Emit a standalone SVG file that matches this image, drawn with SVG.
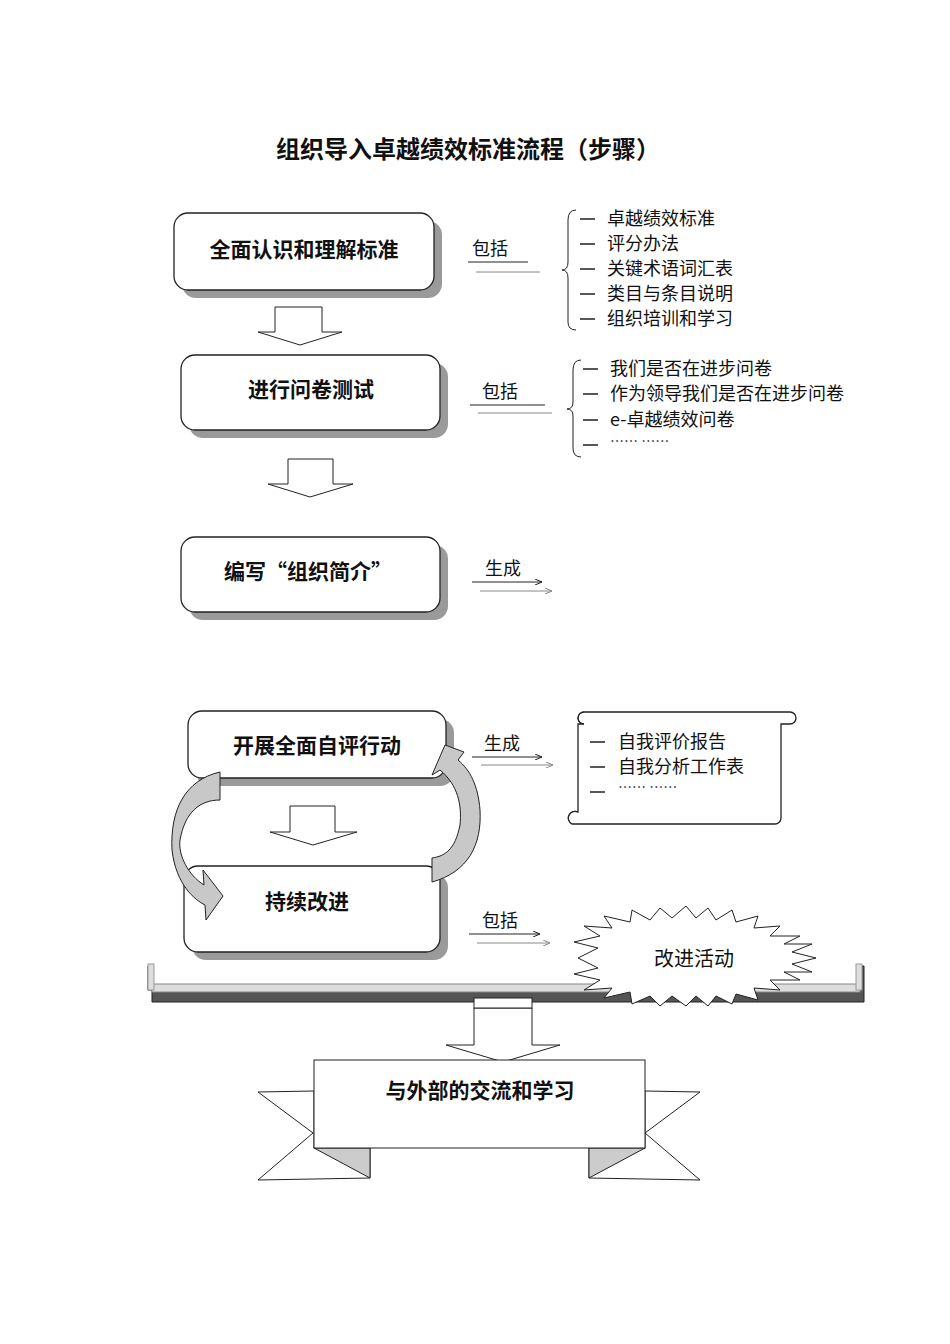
<svg xmlns="http://www.w3.org/2000/svg" width="950" height="1344" viewBox="0 0 950 1344">
<style>
text{font-family:"Noto Sans CJK SC","Liberation Sans",sans-serif;fill:#111}
.b{font-weight:bold;font-size:21px}
.t{font-size:18px}
.box{fill:#fff;stroke:#222;stroke-width:1.3}
.sh{fill:#9a9a9a}
.ln{stroke:#222;stroke-width:1;fill:none}
.lg{stroke:#888;stroke-width:1;fill:none}
.ar{fill:#fff;stroke:#222;stroke-width:1}
.d{stroke:#222;stroke-width:1.3}
</style>
<defs>
<marker id="m" markerWidth="8" markerHeight="6" refX="7" refY="3" orient="auto"><path d="M0,0 L7,3 L0,6" fill="none" stroke="#222"/></marker>
<marker id="mg" markerWidth="8" markerHeight="6" refX="7" refY="3" orient="auto"><path d="M0,0 L7,3 L0,6" fill="none" stroke="#888"/></marker>
</defs>
<rect width="950" height="1344" fill="#fff"/>
<text x="468" y="158" text-anchor="middle" style="font-weight:bold;font-size:24px">组织导入卓越绩效标准流程（步骤）</text>

<g id="n1"><rect class="sh" x="182" y="221" width="260" height="77" rx="14"/><rect class="box" x="174" y="213" width="260" height="77" rx="14"/><text class="b" x="304" y="257" text-anchor="middle">全面认识和理解标准</text></g>
<g id="n2"><rect class="sh" x="189" y="363" width="259" height="75" rx="14"/><rect class="box" x="181" y="355" width="259" height="75" rx="14"/><text class="b" x="311" y="397" text-anchor="middle">进行问卷测试</text></g>
<g id="n3"><rect class="sh" x="189" y="545" width="259" height="75" rx="14"/><rect class="box" x="181" y="537" width="259" height="75" rx="14"/><text class="b" x="308" y="579" text-anchor="middle">编写“组织简介”</text></g>
<g id="n4"><rect class="sh" x="196" y="719" width="258" height="67" rx="14"/><rect class="box" x="188" y="711" width="258" height="67" rx="14"/><text class="b" x="317" y="753" text-anchor="middle">开展全面自评行动</text></g>
<g id="n5"><rect class="sh" x="192" y="874" width="256" height="86" rx="14"/><rect class="box" x="184" y="866" width="256" height="86" rx="14"/><text class="b" x="307" y="909" text-anchor="middle">持续改进</text></g>

<g id="loop">
<path d="M220,772 C185,780 170,810 172,850 C176,885 195,900 205,905 L206,920 L223,896 L203,870 L204,885 C188,875 178,855 180,840 C185,812 200,800 220,800 Z" fill="#c8c8c8" stroke="#222"/>
<path d="M432,882 C468,872 482,845 480,810 C478,785 470,770 458,760 L464,752 L445,745 L432,775 L440,770 C458,785 462,805 460,825 C455,850 445,856 432,858 Z" fill="#c8c8c8" stroke="#222"/>
</g>

<g id="arrows-block">
<path class="ar" d="M275,307 H322 V332 H342 L300,345 L258,332 H275 Z"/>
<path class="ar" d="M288,459 H333 V484 H353 L310,497 L268,484 H288 Z"/>
<path class="ar" d="M290,806 H335 V832 H357 L313,845 L270,832 H290 Z"/>
</g>

<g id="connectors">
<text class="t" x="472" y="255">包括</text>
<line class="ln" x1="468" y1="262" x2="528" y2="262"/><line class="lg" x1="476" y1="272" x2="540" y2="272"/>
<text class="t" x="482" y="398">包括</text>
<line class="ln" x1="470" y1="405" x2="545" y2="405"/><line class="lg" x1="478" y1="413" x2="552" y2="413"/>
<text class="t" x="485" y="575">生成</text>
<line class="ln" x1="472" y1="582" x2="542" y2="582" marker-end="url(#m)"/><line class="lg" x1="480" y1="591" x2="552" y2="591" marker-end="url(#mg)"/>
<text class="t" x="484" y="750">生成</text>
<line class="ln" x1="472" y1="757" x2="542" y2="757" marker-end="url(#m)"/><line class="lg" x1="481" y1="765" x2="553" y2="765" marker-end="url(#mg)"/>
<text class="t" x="482" y="927">包括</text>
<line class="ln" x1="469" y1="934" x2="540" y2="934" marker-end="url(#m)"/><line class="lg" x1="477" y1="943" x2="550" y2="943" marker-end="url(#mg)"/>
</g>

<g id="list1">
<path class="ln" d="M576,210 Q568,210 568,220 V262 Q568,270 562,270 Q568,270 568,278 V322 Q568,330 576,330"/>
<path class="d" d="M580,219 H595 M580,244 H595 M580,269 H595 M580,294 H595 M580,319 H595"/>
<g class="t"><text x="607" y="225">卓越绩效标准</text><text x="607" y="250">评分办法</text><text x="607" y="275">关键术语词汇表</text><text x="607" y="300">类目与条目说明</text><text x="607" y="325">组织培训和学习</text></g>
</g>
<g id="list2">
<path class="ln" d="M581,360 Q573,360 573,370 V402 Q573,409 567,409 Q573,409 573,416 V448 Q573,457 581,457"/>
<path class="d" d="M583,369 H598 M583,394 H598 M583,420 H598 M583,445 H598"/>
<g class="t"><text x="610" y="375">我们是否在进步问卷</text><text x="610" y="400">作为领导我们是否在进步问卷</text><text x="610" y="426">e-卓越绩效问卷</text><text x="610" y="446" style="font-size:14px">……   ……</text></g>
</g>

<g id="scroll">
<path class="box" d="M584,712 H790 A6,6 0 0 1 790,724 H781 V818 A6,6 0 0 1 775,824 H572 A6,6 0 0 1 578,812 V724 H584 A6,6 0 0 1 584,712 Z"/>
<path class="ln" d="M584,712 A6,6 0 0 0 584,724 M578,812 A6,6 0 0 0 572,824"/>
<path class="d" d="M590,742 H605 M590,767 H605 M590,792 H605"/>
<g class="t"><text x="618" y="748">自我评价报告</text><text x="618" y="773">自我分析工作表</text><text x="618" y="792" style="font-size:14px">……   ……</text></g>
</g>

<g id="platform">
<path d="M148,966 V990 H860 V966 H864 V1002 H152 V990" fill="#555" stroke="#222"/>
<rect x="152" y="984" width="708" height="8" fill="#ddd" stroke="#888"/>
<rect x="148" y="964" width="6" height="26" fill="#ddd" stroke="#999"/>
<rect x="856" y="964" width="6" height="26" fill="#ddd" stroke="#999"/>
</g>

<g id="burst">
<path d="M578,958 L598,948 L574,942 L600,936 L584,926 L612,928 L604,916 L630,922 L632,910 L650,920 L660,908 L672,918 L686,906 L696,918 L708,908 L716,920 L732,910 L736,922 L758,916 L754,928 L780,926 L770,936 L800,936 L784,944 L812,944 L792,952 L816,958 L792,964 L812,972 L784,972 L800,980 L770,980 L780,990 L754,988 L758,1000 L736,994 L732,1004 L716,996 L708,1006 L696,996 L686,1006 L672,996 L660,1006 L650,996 L632,1004 L630,992 L604,998 L612,988 L584,990 L600,980 L574,974 L598,968 Z" fill="#fff" stroke="#222"/>
<text x="694" y="966" text-anchor="middle" style="font-size:20px">改进活动</text>
</g>

<g id="arrow-down">
<path class="ar" d="M474,1008 H532 V1045 H560 L503,1062 L446,1045 H474 Z"/>
<rect x="474" y="998" width="58" height="10" fill="#fff" stroke="#222"/>
</g>

<g id="banner">
<polygon points="314,1091 258,1092 313,1133 258,1180 370,1178 370,1148 314,1148" fill="#fff" stroke="#222"/>
<polygon points="314,1148 370,1148 370,1178" fill="#ccc" stroke="#222"/>
<polygon points="645,1091 700,1092 645,1133 700,1180 589,1178 589,1148 645,1148" fill="#fff" stroke="#222"/>
<polygon points="645,1148 589,1148 589,1178" fill="#ccc" stroke="#222"/>
<rect x="314" y="1060" width="331" height="88" fill="#fff" stroke="#222"/>
<text class="b" x="480" y="1098" text-anchor="middle">与外部的交流和学习</text>
</g>
</svg>
